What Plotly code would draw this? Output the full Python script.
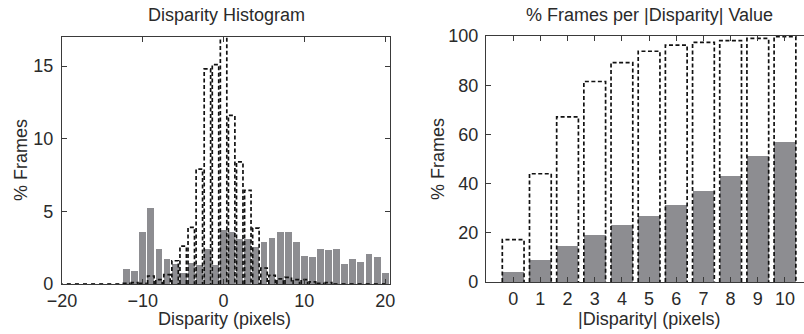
import plotly.graph_objects as go

# ---------------- data ----------------
disp_x = list(range(-20, 21))
gray_hist = [0, 0, 0, 0, 0, 0, 0, 0,              # -20..-13
             1.0, 0.9, 3.6, 5.25, 2.4, 1.7, 1.4, 0.78, 1.48, 1.33, 2.4, 1.33,  # -12..-1
             3.73, 3.56, 3.1, 3.1, 2.52, 2.87, 3.15, 3.56, 3.56, 2.87,          # 0..9
             1.94, 1.83, 2.4, 2.35, 2.4, 1.35, 1.7, 1.5, 2.05, 1.85, 0.75]     # 10..20
dashed_hist = [0, 0, 0, 0, 0, 0, 0, 0,            # -20..-13
               0.05, 0.1, 0.05, 0.55, 0.3, 0.65, 1.6, 2.6, 3.9, 7.9, 14.8, 15.1,  # -12..-1
               17.2, 11.6, 8.4, 6.45, 3.85, 1.1, 0.6, 0.35, 0.45, 0.3,          # 0..9
               0.3, 0.15, 0.05, 0.1, 0, 0, 0, 0, 0, 0, 0]                       # 10..20

abs_x = list(range(0, 11))
gray_cum = [3.9, 9.1, 14.6, 19.1, 23.2, 27.0, 31.5, 37.0, 43.0, 51.2, 57.0]
dashed_cum = [17.2, 44.0, 67.1, 81.5, 89.2, 93.8, 96.3, 97.4, 98.1, 99.0, 99.7]

left_xticks = [-20, -10, 0, 10, 20]
left_yticks = [0, 5, 10, 15]
right_yticks = [0, 20, 40, 60, 80, 100]

W, H = 804, 334
LEFT_BAR_W = 0.85
RIGHT_BAR_W = 0.8
GRAY = "#8d8d91"
TXT = "#2a2a2a"
AX = "#3a3a3a"
FONT = "Liberation Sans, Arial, Helvetica, sans-serif"


def outline(xs, hs, w):
    px, py = [], []
    for x, h in zip(xs, hs):
        px += [x - w / 2, x - w / 2, x + w / 2, x + w / 2, None]
        py += [0, h, h, 0, None]
    return px, py


fig = go.Figure()

# left panel
fig.add_trace(go.Bar(x=disp_x, y=gray_hist, width=LEFT_BAR_W, marker=dict(color=GRAY, line=dict(width=0)),
                     xaxis="x", yaxis="y", showlegend=False))
lx, ly = outline(disp_x, dashed_hist, 0.8)
fig.add_trace(go.Scatter(x=lx, y=ly, mode="lines", line=dict(color="#111111", width=1.7, dash="4px,2.5px"),
                         xaxis="x", yaxis="y", showlegend=False, connectgaps=False))

# right panel
fig.add_trace(go.Bar(x=abs_x, y=gray_cum, width=RIGHT_BAR_W, marker=dict(color=GRAY, line=dict(width=0)),
                     xaxis="x2", yaxis="y2", showlegend=False))
rx, ry = outline(abs_x, dashed_cum, RIGHT_BAR_W)
fig.add_trace(go.Scatter(x=rx, y=ry, mode="lines", line=dict(color="#111111", width=1.7, dash="4px,2.5px"),
                         xaxis="x2", yaxis="y2", showlegend=False, connectgaps=False))


def px2x(p):
    return p / W


def px2y(p):
    return 1 - p / H


axis_common = dict(showgrid=False, zeroline=False, showline=True, linecolor=AX, linewidth=1.2,
                   ticks="inside", ticklen=5, tickwidth=1, tickcolor=AX, automargin=False,
                   tickfont=dict(family=FONT, size=18, color=TXT))

fig.update_layout(
    width=W, height=H, margin=dict(l=0, r=0, t=0, b=0, pad=0, autoexpand=False),
    paper_bgcolor="white", plot_bgcolor="white", bargap=0, barmode="overlay",
    font=dict(family=FONT, size=18, color=TXT),
    xaxis=dict(domain=[px2x(62), px2x(390)], range=[-20, 20.6], tickvals=left_xticks,
               ticktext=["\u221220", "\u221210", "0", "10", "20"], mirror="ticks", anchor="y", **axis_common),
    yaxis=dict(domain=[px2y(284), px2y(37)], range=[0, 17], tickvals=left_yticks, mirror="ticks",
               anchor="x", ticklabelstandoff=4, **axis_common),
    xaxis2=dict(domain=[px2x(486), 1.0], range=[-1, 10.7], tickvals=abs_x, mirror="ticks", anchor="y2",
                **axis_common),
    yaxis2=dict(domain=[px2y(282), px2y(36)], range=[0, 100], tickvals=right_yticks, mirror=False,
                anchor="x2", ticklabelstandoff=3, **axis_common),
)

ann = [
    ("Disparity Histogram", 226, 15, 0),
    ("% Frames per |Disparity| Value", 649, 15, 0),
    ("Disparity (pixels)", 224, 319, 0),
    ("|Disparity| (pixels)", 649, 319, 0),
    ("% Frames", 21, 160, -90),
    ("% Frames", 438, 159, -90),
]
for text, x, y, ang in ann:
    fig.add_annotation(text=text, x=px2x(x), y=px2y(y), xref="paper", yref="paper",
                       xanchor="center", yanchor="middle", showarrow=False, textangle=ang,
                       font=dict(family=FONT, size=18, color=TXT))

fig.write_html("out.html")
